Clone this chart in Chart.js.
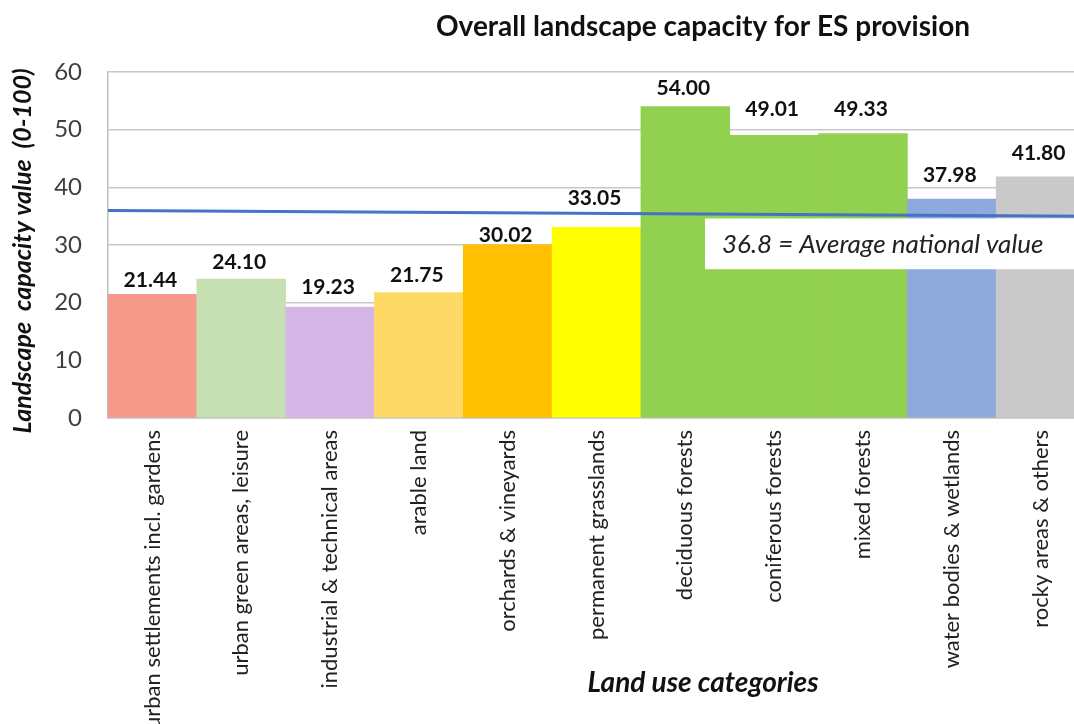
<!DOCTYPE html>
<html>
<head>
<meta charset="utf-8">
<script src="https://cdn.jsdelivr.net/npm/chart.js@4"></script>
<style>
  html, body { margin: 0; padding: 0; background: #fff; overflow: hidden; }
  #wrap { position: relative; width: 1086px; height: 724px; }
</style>
</head>
<body>
<div id="wrap"><canvas id="c"></canvas></div>
<script>
// ---- data ----
const categories = [
  "urban settlements incl. gardens",
  "urban green areas, leisure",
  "industrial & technical areas",
  "arable land",
  "orchards & vineyards",
  "permanent grasslands",
  "deciduous forests",
  "coniferous forests",
  "mixed forests",
  "water bodies & wetlands",
  "rocky areas & others"
];
const capacityValues = [21.44, 24.10, 19.23, 21.75, 30.02, 33.05, 54.00, 49.01, 49.33, 37.98, 41.80];
const averageLine = [36.0, 35.0];          // drawn average line, start / end
const averageLabel = "36.8 = Average national value";
const yTicks = [0, 10, 20, 30, 40, 50, 60];
const chartTitle = "Overall landscape capacity for ES provision";
const xTitle = "Land use categories";
const yTitle = "Landscape  capacity value  (0-100)";

// ---- styles ----
const barColors = ["#F59A8A", "#C6E0B4", "#D5B6E6", "#FFD966", "#FFC000", "#FFFF00",
                   "#92D050", "#92D050", "#92D050", "#8EA9DB", "#C9C9C9"];
const labelLift = [14, 17, 20, 17, 10, 29, 18, 26, 24, 24, 24];
const FONT = "Lato, 'Open Sans', 'DejaVu Sans', sans-serif";

const textPlugin = {
  id: 'textPlugin',
  afterDatasetsDraw(chart) {
    const ctx = chart.ctx;
    const meta = chart.getDatasetMeta(0);
    ctx.save();
    // data labels
    ctx.fillStyle = '#111';
    ctx.font = "bold 21px " + FONT;
    ctx.textAlign = 'center';
    ctx.textBaseline = 'middle';
    meta.data.forEach((bar, i) => {
      ctx.fillText(capacityValues[i].toFixed(2), bar.x - 2, bar.y - labelLift[i]);
    });
    // average label box
    const a = chart.chartArea;
    const ys = chart.scales.y;
    const boxTop = ys.getPixelForValue(34.6);
    const boxBot = ys.getPixelForValue(25.8);
    ctx.fillStyle = '#fff';
    ctx.fillRect(705, boxTop, a.right - 705, boxBot - boxTop);
    ctx.fillStyle = '#222';
    ctx.font = "italic 26px " + FONT;
    ctx.textAlign = 'left';
    ctx.fillText(averageLabel, 722, (boxTop + boxBot) / 2 + 1);
    // titles
    ctx.fillStyle = '#111';
    ctx.font = "bold 28px " + FONT;
    ctx.textAlign = 'center';
    ctx.fillText(chartTitle, 703, 27);
    ctx.font = "bold italic 28px " + FONT;
    ctx.fillText(xTitle, 703, 683);
    ctx.translate(23, 251);
    ctx.rotate(-Math.PI / 2);
    ctx.font = "bold italic 25px " + FONT;
    ctx.fillText(yTitle, 0, 0);
    ctx.restore();
  }
};

new Chart(document.getElementById('c'), {
  type: 'bar',
  data: {
    labels: categories,
    datasets: [
      {
        type: 'bar',
        data: capacityValues,
        backgroundColor: barColors,
        borderWidth: 0,
        barPercentage: 1.0,
        categoryPercentage: 1.0,
        grouped: false,
        order: 2
      },
      {
        type: 'line',
        xAxisID: 'x2',
        data: [{x: 0, y: averageLine[0]}, {x: 1, y: averageLine[1]}],
        borderColor: '#4472C4',
        borderWidth: 3,
        pointRadius: 0,
        fill: false,
        order: 1
      }
    ]
  },
  options: {
    responsive: true,
    maintainAspectRatio: false,
    animation: false,
    layout: { padding: { top: 72, right: 1, left: 0, bottom: 0 } },
    plugins: { legend: { display: false }, tooltip: { enabled: false }, title: { display: false } },
    scales: {
      x: {
        type: 'category',
        grid: { display: false, drawTicks: false },
        border: { display: true, color: '#bfbfbf', width: 1.5 },
        ticks: {
          color: '#222',
          font: { family: FONT, size: 22 },
          minRotation: 90, maxRotation: 90,
          padding: 12,
          autoSkip: false
        },
        afterFit(scale) { scale.height = 306; }
      },
      x2: {
        type: 'linear', display: false, min: 0, max: 1, offset: false,
        grid: { offset: false }
      },
      y: {
        min: 0, max: 60,
        afterBuildTicks(scale) { scale.ticks = yTicks.map(v => ({ value: v })); },
        grid: { color: '#c8c8c8', lineWidth: 1.5, drawTicks: false },
        border: { display: true, color: '#bfbfbf', width: 1.5 },
        ticks: {
          color: '#404040',
          font: { family: FONT, size: 24 },
          padding: 26
        },
        afterFit(scale) { scale.width = 108; }
      }
    }
  },
  plugins: [textPlugin]
});
</script>
</body>
</html>
